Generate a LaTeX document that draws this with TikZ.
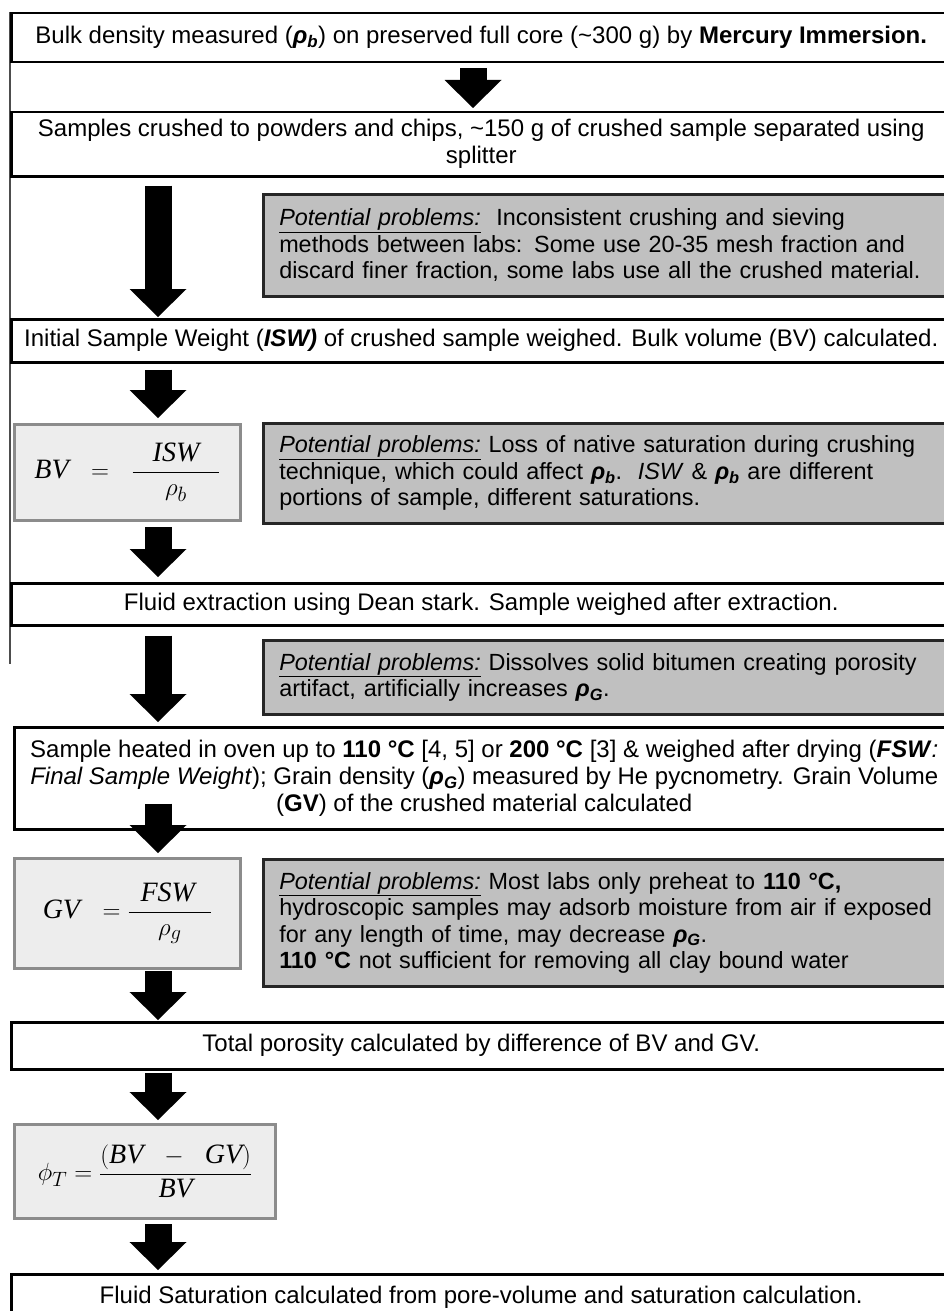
\documentclass[tikz,border=0pt]{standalone}
\usepackage{fontspec}
\setmainfont{Liberation Sans}
\newfontfamily\serifeq{Liberation Serif}
\usetikzlibrary{positioning,arrows.meta}
\definecolor{ink}{HTML}{000000}
\definecolor{slab}{HTML}{C0C0C0}
\definecolor{slabedge}{HTML}{262626}
\definecolor{eqwash}{HTML}{EDEDED}
\definecolor{eqedge}{HTML}{8C8C8C}
\definecolor{rail}{HTML}{4D4D4D}
\newcommand{\eqv}[1]{\hbox{\serifeq\itshape #1}}
\newcommand{\rhob}{\textbf{\textit{ρ\textsubscript{b}}}}
\newcommand{\rhoG}{\textbf{\textit{ρ\textsubscript{G}}}}
\newcommand{\probs}{\underline{\textit{Potential problems:}}}
\tikzset{
  %% nodes
  stepbox/.style = {draw=ink, line width=2.5pt, fill=white, anchor=north west,
                    minimum width=940pt, inner sep=0pt, align=center},
  issue/.style   = {draw=slabedge, line width=2.5pt, fill=slab, anchor=north west,
                    text width=700pt, inner xsep=16pt, inner ysep=0pt, align=left,
                    font=\fontsize{23.4}{26.5}\selectfont},
  eqbox/.style   = {draw=eqedge, line width=3pt, fill=eqwash, anchor=north west,
                    inner sep=0pt, font=\fontsize{28}{30}\selectfont},
  %% arrows
  bigflow/.style = {draw=ink, line width=27pt,
                    -{Triangle[width=57pt,length=28pt,line width=0pt]}},
}
\begin{document}
\begin{tikzpicture}[x=1pt, y=-1pt, font=\fontsize{24}{27}\selectfont]

\useasboundingbox (0,0) rectangle (943,1311);
\fill[white] (0,0) rectangle (943,1311);

%% ---- left rail ----
\coordinate (railend) at (10,664);
\draw[draw=rail, line width=1.5pt] (10,12) -- (railend);

%% ---- main column ----
\node[stepbox, minimum height=49pt] (bulk) at (10,12)
  {Bulk density measured (\rhob) on preserved full core (\textasciitilde300 g) by \textbf{Mercury Immersion.}};
\node[stepbox, minimum height=64pt] (crush) at (10,111)
  {Samples crushed to powders and chips, \textasciitilde150 g of crushed sample separated using\\ splitter};
\node[stepbox, minimum height=43pt] (isw) at (10,318)
  {Initial Sample Weight (\textbf{\textit{ISW)}} of crushed sample weighed. Bulk volume (BV) calculated.};
\node[stepbox, minimum height=42pt] (dean) at (10,582)
  {Fluid extraction using Dean stark. Sample weighed after extraction.};
\node[stepbox, minimum height=102pt] (oven) at (13,726)
  {Sample heated in oven up to \textbf{110 °C} [4, 5] or \textbf{200 °C} [3] \& weighed after drying (\textbf{\textit{FSW}}\textit{:}\\
   \textit{Final Sample Weight}); Grain density (\rhoG) measured by He pycnometry. Grain Volume\\
   (\textbf{GV}) of the crushed material calculated};
\node[stepbox, minimum height=47pt] (poro) at (10,1021)
  {Total porosity calculated by difference of BV and GV.};
\node[stepbox, minimum height=47pt] (satur) at (10,1273)
  {Fluid Saturation calculated from pore-volume and saturation calculation.};

%% ---- formula boxes ----
\node[eqbox, minimum width=226pt, minimum height=96pt] (bv) at (13,423)
  {$\eqv{BV}\ \ =\ \ \displaystyle\frac{\hspace{20pt}\eqv{ISW}\hspace{20pt}}{\rho_b}$};
\node[eqbox, minimum width=226pt, minimum height=110pt] (gv) at (13,857)
  {$\eqv{GV}\ \ =\displaystyle\frac{\hspace{12pt}\eqv{FSW}\hspace{16pt}}{\rho_g}$};
\node[eqbox, minimum width=261pt, minimum height=94pt] (phi) at (13,1123)
  {$\phi_T = \displaystyle\frac{\Bigl(\eqv{BV}\ \ -\ \ \eqv{GV}\Bigr)}{\eqv{BV}}$};

%% ---- potential problems ----
\node[issue, minimum height=102pt] (prob1) at (262,193)
  {\probs\ \ Inconsistent crushing and sieving\\
   methods between labs: Some use 20-35 mesh fraction and\\
   discard finer fraction, some labs use all the crushed material.};
\node[issue, minimum height=100pt] (prob2) at (262,422)
  {\probs{} Loss of native saturation during crushing\\
   technique, which could affect \rhob.\ \ \textit{ISW} \& \rhob{} are different\\
   portions of sample, different saturations.};
\node[issue, minimum height=74pt] (prob3) at (262,639)
  {\probs{} Dissolves solid bitumen creating porosity\\
   artifact, artificially increases \rhoG.};
\node[issue, minimum height=127pt] (prob4) at (262,858)
  {\probs{} Most labs only preheat to \textbf{110 °C,}\\
   hydroscopic samples may adsorb moisture from air if exposed\\
   for any length of time, may decrease \rhoG.\\
   \textbf{110 °C} not sufficient for removing all clay bound water};

%% ---- block arrows ----
\coordinate (midx)  at (473,0);
\coordinate (leftx) at (158,0);
\draw[bigflow, shorten <=5pt, shorten >=3pt] (bulk.south -| midx) -- (crush.north -| midx);
\draw[bigflow, shorten <=8pt, shorten >=1pt] (crush.south -| leftx) -- (isw.north -| leftx);
\draw[bigflow, shorten <=6pt, shorten >=5pt] (isw.south -| leftx) -- (bv.north -| leftx);
\draw[bigflow, shorten <=5pt, shorten >=5pt] (bv.south -| leftx) -- (dean.north -| leftx);
\draw[bigflow, shorten <=9pt, shorten >=4pt] (dean.south -| leftx) -- (oven.north -| leftx);
%% this one starts inside the oven box
\draw[bigflow, shorten >=4pt] ([yshift=27pt]oven.south -| leftx) -- (gv.north -| leftx);
\draw[bigflow, shorten <=1pt, shorten >=1pt] (gv.south -| leftx) -- (poro.north -| leftx);
\draw[bigflow, shorten <=2pt, shorten >=3pt] (poro.south -| leftx) -- (phi.north -| leftx);
\draw[bigflow, shorten <=4pt, shorten >=3pt] (phi.south -| leftx) -- (satur.north -| leftx);
\end{tikzpicture}
\end{document}
